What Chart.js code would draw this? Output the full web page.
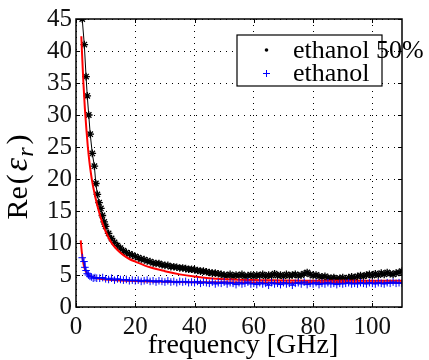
<!DOCTYPE html>
<html><head><meta charset="utf-8">
<script src="https://cdn.jsdelivr.net/npm/chart.js@4/dist/chart.umd.min.js"></script>
<style>html,body{margin:0;padding:0;background:#fff}canvas{display:block}</style>
</head><body>
<canvas id="c" width="429" height="360"></canvas>
<script>
// ---- data ----
const xTickValues = [0, 20, 40, 60, 80, 100];
const yTickValues = [0, 5, 10, 15, 20, 25, 30, 35, 40, 45];
const legendLabels = ["ethanol 50%", "ethanol"];
const xTitle = "frequency [GHz]";

const ethanol50X = [2.1,2.8,3.4,3.8,4.3,4.8,5.5,6.2,6.7,7.2,7.8,8.4,8.9,9.5,10,
 11,12,13,14,15,16,17,18,19,20,21,22,23,24,25,26,27,28,29,30,31,32,33,34,35,36,37,38,39,40,
 41,42,43,44,45,46,47,48,49,50,51,52,53,54,55,56,57,58,59,60,61,62,63,64,65,66,67,68,69,70,
 71,72,73,74,75,76,77,78,79,80,81,82,83,84,85,86,87,88,89,90,91,92,93,94,95,96,97,98,99,100,
 101,102,103,104,105,106,107,108,109,110];
const ethanol50Y = [45,41,36,33,30,27,24,22,19.3,17.6,16.3,15.4,14.3,13.3,12.6,
 11.5,10.7,10.1,9.6,9.2,8.8,8.5,8.3,8.1,7.9,7.7,7.5,7.4,7.2,7.1,6.9,6.8,6.8,6.6,6.5,6.5,6.3,6.3,6.2,6.1,6.1,6.0,5.9,5.9,5.8,
 5.7,5.6,5.6,5.5,5.4,5.3,5.3,5.2,5.1,5.0,4.9,5.1,4.8,5.0,4.9,5.1,4.8,4.9,5.0,4.8,5.0,4.9,5.1,4.8,5.0,4.9,5.2,4.9,5.0,4.8,
 5.1,4.9,5.0,5.1,4.9,5.0,5.2,5.4,5.1,4.9,5.0,4.8,4.7,4.8,4.6,4.5,4.6,4.4,4.5,4.6,4.4,4.6,4.7,4.6,4.8,4.9,4.8,5.0,5.1,4.9,
 5.2,5.0,5.3,5.1,5.4,5.2,5.1,5.3,5.4,5.6];

const ethanolX = [2.1,2.7,3.0,3.4,3.8,4.2,4.7,5.2,5.8,6.4,7,
 8,9,10,11,12,13,14,15,16,17,18,19,20,21,22,23,24,25,26,27,28,29,30,31,32,33,34,35,36,37,38,39,40,
 41,42,43,44,45,46,47,48,49,50,51,52,53,54,55,56,57,58,59,60,61,62,63,64,65,66,67,68,69,70,
 71,72,73,74,75,76,77,78,79,80,81,82,83,84,85,86,87,88,89,90,91,92,93,94,95,96,97,98,99,100,
 101,102,103,104,105,106,107,108,109,110];
const ethanolY = [7.7,7.1,6.2,5.7,5.2,5.0,4.8,4.7,4.5,4.6,4.5,
 4.5,4.6,4.4,4.3,4.5,4.2,4.4,4.3,4.2,4.3,4.1,4.2,4.1,4.2,4.0,4.1,4.2,4.0,4.1,3.9,4.1,4.0,3.9,4.1,3.9,4.0,3.8,4.0,3.9,4.0,3.8,3.9,3.8,
 4.0,3.7,3.9,3.8,3.7,3.9,3.6,3.8,3.7,3.9,3.6,3.8,3.7,3.5,3.8,3.6,3.7,3.9,3.6,3.7,3.5,3.8,3.6,3.7,3.4,3.8,3.6,3.7,3.5,3.8,
 3.6,3.7,3.4,3.7,3.8,3.6,3.9,3.5,3.7,3.6,3.8,3.5,3.7,3.6,3.8,3.6,3.7,3.5,3.7,3.6,3.7,3.8,3.6,3.7,3.6,3.8,3.7,3.6,3.8,3.7,
 3.6,3.8,3.7,3.6,3.8,3.7,3.9,3.7,3.8,3.7];

const fit50X = [1.8,2.0,2.5,3.0,3.5,4.0,4.5,5.0,5.5,6,7,8,9,10,12,14,16,18,20,25,30,35,40,45,50,60,70,80,90,100,110];
const fit50Y = [42.3,40,35,31,27.8,25,22.8,21,19.5,18.3,16.2,14.5,13.0,11.8,10.0,8.9,8.1,7.5,7.1,6.2,5.6,5.1,4.75,4.5,4.35,4.2,4.15,4.1,4.1,4.1,4.1];

const fitEthX = [1.6,1.8,2.0,2.3,2.6,3.0,3.5,4,5,6,8,10,15,20,30,40,60,80,110];
const fitEthY = [10.4,9.3,8.4,7.4,6.6,5.9,5.4,5.1,4.8,4.6,4.4,4.3,4.15,4.05,3.95,3.88,3.82,3.8,3.78];

const pts = (xs, ys) => xs.map((x, i) => ({x: x, y: ys[i]}));
const SERIF = "'Liberation Serif', 'Times New Roman', serif";

const framePlugin = {
  id: 'frame',
  afterDraw(chart) {
    const ctx = chart.ctx, a = chart.chartArea;
    const xs = chart.scales.x, ys = chart.scales.y;
    ctx.save();
    // inner tick marks
    ctx.strokeStyle = '#000'; ctx.lineWidth = 1;
    ctx.beginPath();
    xTickValues.forEach(v => {
      const px = Math.round(xs.getPixelForValue(v)) + 0.5;
      ctx.moveTo(px, a.bottom); ctx.lineTo(px, a.bottom - 4);
      ctx.moveTo(px, a.top); ctx.lineTo(px, a.top + 4);
    });
    yTickValues.forEach(v => {
      const py = Math.round(ys.getPixelForValue(v)) + 0.5;
      ctx.moveTo(a.left, py); ctx.lineTo(a.left + 4, py);
      ctx.moveTo(a.right, py); ctx.lineTo(a.right - 4, py);
    });
    ctx.stroke();
    // box
    ctx.lineWidth = 1.5;
    ctx.strokeRect(a.left, a.top, a.right - a.left, a.bottom - a.top);
    // legend
    const lx = 237, ly = 35, lw = 145, lh = 51;
    ctx.fillStyle = '#fff';
    ctx.fillRect(lx, ly, lw, lh);
    ctx.lineWidth = 1.2; ctx.strokeStyle = '#000';
    ctx.strokeRect(lx, ly, lw, lh);
    ctx.font = '26px ' + SERIF;
    ctx.fillStyle = '#000';
    ctx.textAlign = 'left'; ctx.textBaseline = 'alphabetic';
    ctx.fillText(legendLabels[0], 293, 58);
    ctx.fillText(legendLabels[1], 293, 81);
    // legend markers
    ctx.beginPath(); ctx.arc(266.5, 50, 1.8, 0, Math.PI * 2); ctx.fillStyle = '#000'; ctx.fill();
    ctx.strokeStyle = '#0000ff'; ctx.lineWidth = 1;
    ctx.beginPath(); ctx.moveTo(263, 73.5); ctx.lineTo(270, 73.5); ctx.moveTo(266.5, 70); ctx.lineTo(266.5, 77); ctx.stroke();
    // x title
    ctx.fillStyle = '#000';
    ctx.font = '28px ' + SERIF;
    ctx.textAlign = 'center';
    ctx.fillText(xTitle, 243, 353);
    // y title: Re(ε_r)
    ctx.translate(27, 177);
    ctx.rotate(-Math.PI / 2);
    const f1 = '30px ' + SERIF, f2 = 'italic 34px ' + SERIF, f3 = 'italic 24px ' + SERIF;
    const parts = [['Re', f1, 0, 2], ['(', f1, 0, 3], ['\u03B5', f2, 0, 1], ['r', f3, 6, 3], [')', f1, 0, 0]];
    let total = 0;
    parts.forEach(p => { ctx.font = p[1]; total += ctx.measureText(p[0]).width + p[3]; });
    let cx = -total / 2;
    ctx.textAlign = 'left';
    parts.forEach(p => { ctx.font = p[1]; ctx.fillText(p[0], cx, p[2]); cx += ctx.measureText(p[0]).width + p[3]; });
    ctx.restore();
  }
};

new Chart(document.getElementById('c'), {
  type: 'scatter',
  data: {
    datasets: [
      { label: legendLabels[1], data: pts(ethanolX, ethanolY), order: 0,
        showLine: true, borderColor: '#0000ff', borderWidth: 1, pointStyle: 'cross',
        pointRadius: 3.8, pointBorderColor: '#0000ff', pointBorderWidth: 1, pointBackgroundColor: '#0000ff' },
      { label: 'fit ethanol', data: pts(fitEthX, fitEthY), order: 1,
        showLine: true, borderColor: '#ff0000', borderWidth: 2, pointRadius: 0, cubicInterpolationMode: 'monotone' },
      { label: 'fit ethanol 50%', data: pts(fit50X, fit50Y), order: 2,
        showLine: true, borderColor: '#ff0000', borderWidth: 2, pointRadius: 0, cubicInterpolationMode: 'monotone' },
      { label: legendLabels[0], data: pts(ethanol50X, ethanol50Y), order: 3,
        showLine: true, borderColor: '#000', borderWidth: 1, pointStyle: 'star',
        pointRadius: 3.8, pointBorderColor: '#000', pointBorderWidth: 1.3, pointBackgroundColor: '#000' }
    ]
  },
  options: {
    responsive: false, animation: false, devicePixelRatio: 1,
    layout: { padding: { top: 18, right: 27, left: 0, bottom: 0 } },
    plugins: { legend: { display: false }, tooltip: { enabled: false } },
    scales: {
      x: {
        type: 'linear', min: 0, max: 110,
        afterFit(s) { s.height = 53; },
        afterBuildTicks(s) { s.ticks = xTickValues.map(v => ({ value: v })); },
        border: { display: false, dash: [1, 5] },
        grid: { color: '#000', lineWidth: 1, tickLength: 0, drawTicks: false },
        ticks: { color: '#111', padding: 5, maxRotation: 0, autoSkip: false, font: { family: SERIF, size: 25 } },
        title: { display: false }
      },
      y: {
        type: 'linear', min: 0, max: 45,
        afterFit(s) { s.width = 76; },
        afterBuildTicks(s) { s.ticks = yTickValues.map(v => ({ value: v })); },
        border: { display: false, dash: [1, 5] },
        grid: { color: '#000', lineWidth: 1, tickLength: 0, drawTicks: false },
        ticks: { color: '#111', padding: 4, autoSkip: false, font: { family: SERIF, size: 25 } },
        title: { display: false }
      }
    }
  },
  plugins: [framePlugin]
});
</script>
</body></html>
